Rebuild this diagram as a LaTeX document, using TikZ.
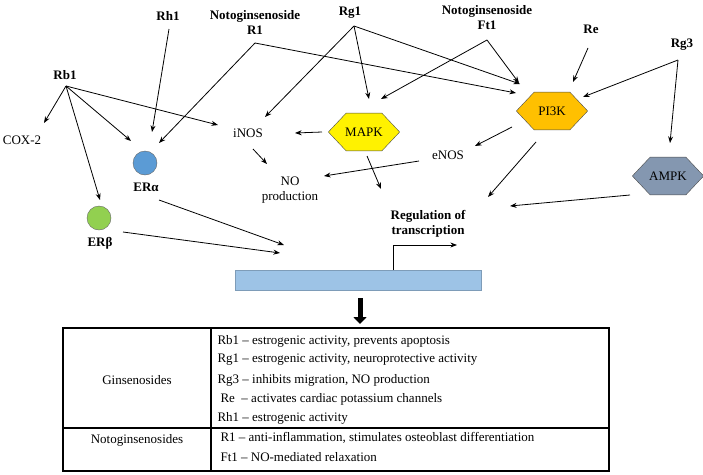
\documentclass[tikz,border=0pt]{standalone}
\usepackage{fontspec}
\setmainfont{Liberation Serif}
\usetikzlibrary{shapes.geometric,arrows.meta}
\colorlet{penColor}{black}
\definecolor{eraColor}{HTML}{5B9BD5}
\definecolor{erbColor}{HTML}{92D050}
\definecolor{pikColor}{HTML}{FFC000}
\definecolor{ampkColor}{HTML}{8497B0}
\definecolor{barColor}{HTML}{9DC3E6}
\tikzset{>=Stealth,
  lig/.style={font=\fontsize{13}{15}\selectfont\bfseries},
  hex/.style={regular polygon,regular polygon sides=6,shape border rotate=0,minimum width=0pt,inner sep=0pt,draw=black!70,minimum size=46pt,xscale=1.55,yscale=0.95},
  arr/.style={->,penColor,thick},
  row/.style={anchor=west}}
\begin{document}
\begin{tikzpicture}[x=1pt,y=-1pt,font=\fontsize{13}{15}\selectfont]
\useasboundingbox (0,0) rectangle (703,474);
% ligands
\node[lig] (rb1) at (65,75) {Rb1};
\coordinate (rb1o) at (66,86);
\node[lig] (rh1) at (168,16) {Rh1};
\node[lig,align=center] (r1) at (255,22) {Notoginsenoside\\R1};
\coordinate (r1o) at (255,43);
\node[lig] (rg1) at (350,13) {Rg1};
\coordinate (rg1o) at (354,26);
\node[lig,align=center] (ft1) at (487,18) {Notoginsenoside\\Ft1};
\coordinate (ft1o) at (487,40);
\node[lig] (re) at (591,29) {Re};
\node[lig] (rg3) at (682,45) {Rg3};
\coordinate (rg3o) at (678,60);
% targets
\node (cox) at (22,140) {COX-2};
\node[circle,draw=black!60,fill=eraColor,minimum size=24pt,inner sep=0pt] (era) at (145,163) {};
\node[lig] (eral) at (146,187) {ERα};
\node[circle,draw=black!60,fill=erbColor,minimum size=24pt,inner sep=0pt] (erb) at (99,218) {};
\node[lig] (erbl) at (100,243) {ERβ};
\node (inos) at (248,133) {iNOS};
\node[hex,fill=yellow] (mapk) at (364,132) {};
\node at (mapk) {MAPK};
\node[hex,fill=pikColor] (pi3k) at (552,111) {};
\node at (pi3k) {PI3K};
\node[hex,fill=ampkColor] (ampk) at (668,176) {};
\node at (ampk) {AMPK};
\node (enos) at (448,155) {eNOS};
\node[align=center] (no) at (290,190) {NO\\production};
\node[lig,align=center] (reg) at (428,224) {Regulation of\\transcription};
\node[draw=barColor!80!black,fill=barColor,minimum width=246pt,minimum height=20pt,inner sep=0pt] (bar) at (358,280) {};
% connectors
\draw[arr] (rb1o) -- (44,123);
\draw[arr] (rb1o) -- (131,141);
\draw[arr] (rb1o) -- (100,200);
\draw[arr] (rb1o) -- (218,125);
\draw[arr] (169,29) -- (152,132);
\draw[arr] (r1o) -- (159,143);
\draw[arr] (r1o) -- (516,93);
\draw[arr] (rg1o) -- (265,117);
\draw[arr] (rg1o) -- (369,99);
\draw[arr] (rg1o) -- (520,84);
\draw[arr] (ft1o) -- (381,99);
\draw[arr] (ft1o) -- (519,83);
\draw[arr] (588,48) -- (573,82);
\draw[arr] (rg3o) -- (583,97);
\draw[arr] (rg3o) -- (670,143);
\draw[arr] (322,132) -- (295,133);
\draw[arr] (512,127) -- (475,146);
\draw[arr] (419,161) -- (324,176);
\draw[arr] (253,149) -- (267,164);
\draw[arr] (367,156) -- (381,189);
\draw[arr] (536,142) -- (488,197);
\draw[arr] (630,195) -- (510,206);
\draw[arr] (159,200) -- (284,245);
\draw[arr] (123,232) -- (280,253);
\draw[arr] (393,270) |- (457,245);
\draw[-{Triangle[length=7pt,width=13pt]},line width=5pt] (360,298) -- (360,324);
% table
\draw[very thick] (63,328) rectangle (609,471);
\draw[very thick] (63,428) -- (609,428);
\draw[very thick] (211,328) -- (211,471);
\node (gin) at (137,380) {Ginsenosides};
\node (notog) at (137,440) {Notoginsenosides};
\node[row] at (214,341) {Rb1 -- estrogenic activity, prevents apoptosis};
\node[row] at (214,360) {Rg1 -- estrogenic activity, neuroprotective activity};
\node[row] at (214,380) {Rg3 -- inhibits migration, NO production};
\node[row] at (217,399) {Re \ -- activates cardiac potassium channels};
\node[row] at (214,418) {Rh1 -- estrogenic activity};
\node[row] at (217,438) {R1 -- anti-inflammation, stimulates osteoblast differentiation};
\node[row] at (217,457) {Ft1 -- NO-mediated relaxation};
\end{tikzpicture}
\end{document}
